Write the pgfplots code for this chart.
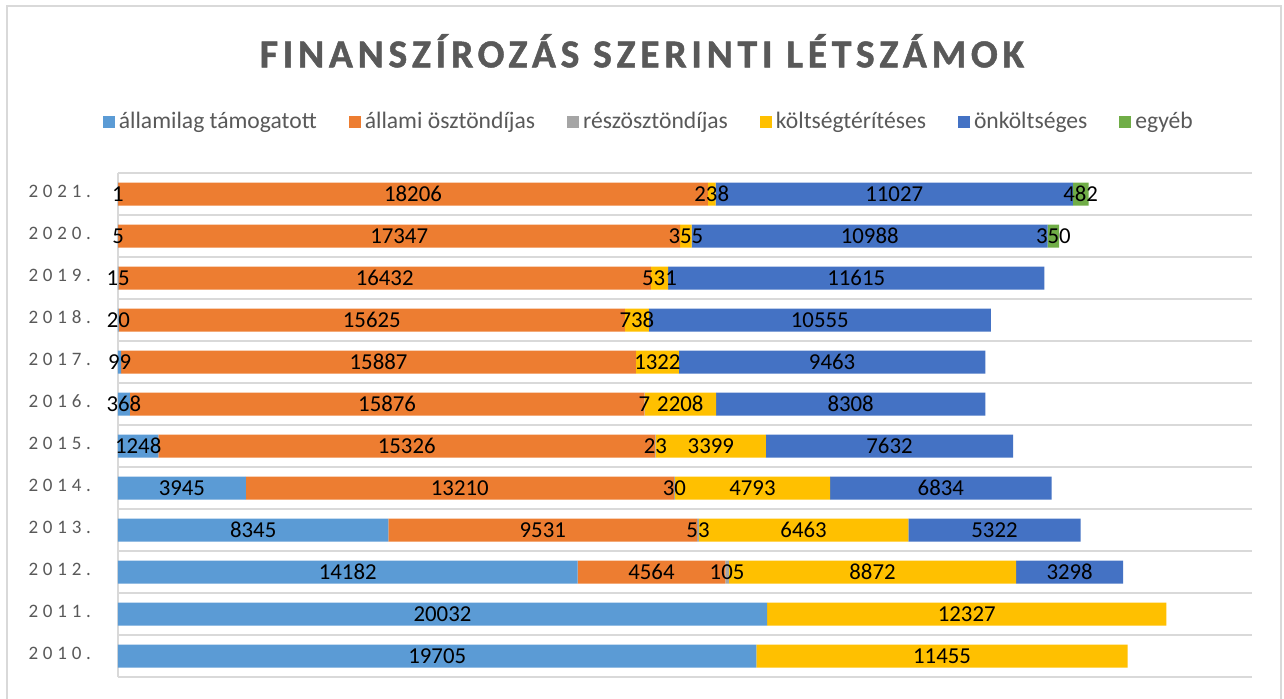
\documentclass[border=0pt]{standalone}
\usepackage{pgfplots}
\usepackage{pgfplotstable}
\pgfplotsset{compat=1.18}
\usepackage{fontspec}
\setmainfont{Carlito}
\newfontfamily\titlefamily[LetterSpace=12, FakeBold=1.2]{Carlito Bold}
\newfontfamily\yearfamily[LetterSpace=25]{Carlito}

\definecolor{ctam}{HTML}{5B9BD5}
\definecolor{cost}{HTML}{ED7D31}
\definecolor{cresz}{HTML}{A5A5A5}
\definecolor{ckolt}{HTML}{FFC000}
\definecolor{conk}{HTML}{4472C4}
\definecolor{cegy}{HTML}{70AD47}
\definecolor{txtgray}{HTML}{595959}
\definecolor{gridgray}{HTML}{D9D9D9}

% pos 0 = 2010 ... 11 = 2021
\pgfplotstableread{
pos tam ost resz kolt onk egy
0 19705 0 0 11455 0 0
1 20032 0 0 12327 0 0
2 14182 4564 105 8872 3298 0
3 8345 9531 53 6463 5322 0
4 3945 13210 30 4793 6834 0
5 1248 15326 23 3399 7632 0
6 368 15876 7 2208 8308 0
7 99 15887 0 1322 9463 0
8 20 15625 0 738 10555 0
9 15 16432 0 531 11615 0
10 5 17347 0 355 10988 350
11 1 18206 0 238 11027 482
}\data

\pgfplotsset{
  common/.style={
    at={(59pt,10.5pt)}, anchor=south west,
    scale only axis, width=567pt, height=252pt,
    xmin=0, xmax=35000, ymin=-0.5, ymax=11.5,
    /pgf/number format/assume math mode=true,
  },
  lbl/.style={
    draw=none, mark=none,
    nodes near coords={\pgfmathprintnumber[fixed,1000 sep={},assume math mode=true]{\pgfplotspointmeta}},
    every node near coord/.append style={anchor=center, text=black, font=\fontsize{11.4pt}{13pt}\selectfont},
    point meta=explicit,
  },
}

\begin{document}
\begin{tikzpicture}
\useasboundingbox (0,0) rectangle (642pt,349pt);
\fill[white] (0,0) rectangle (642pt,349pt);
\draw[gridgray, line width=0.75pt] (3.5pt,-5pt) -- (3.5pt,346pt) -- (640.5pt,346pt) -- (640.5pt,-5pt);

\begin{axis}[common,
  xbar stacked,
  bar width=11.5pt,
  axis line style={draw=none},
  tick style={draw=none},
  xtick=\empty,
  ytick={0,...,11},
  yticklabels={2010.,2011.,2012.,2013.,2014.,2015.,2016.,2017.,2018.,2019.,2020.,2021.},
  yticklabel style={font=\yearfamily\fontsize{9.5pt}{11pt}\selectfont, text=txtgray, xshift=-10pt, yshift=1.5pt},
  minor ytick={-0.5,0.5,...,11.5},
  yminorgrids=true,
  minor grid style={draw=gridgray, line width=0.75pt},
  extra x ticks={0},
  extra x tick labels={},
  extra x tick style={grid=major, major grid style={draw=gridgray, line width=0.75pt}},
  title={FINANSZÍROZÁS SZERINTI LÉTSZÁMOK},
  title style={at={(0.462,1.2097)}, anchor=base, yshift=-6pt, text=txtgray,
    font=\titlefamily\fontsize{19.8pt}{23pt}\selectfont},
  legend columns=-1,
  legend style={at={(0.469,1.101)}, anchor=center, draw=none, fill=none,
    font=\fontsize{11.8pt}{14pt}\selectfont, text=txtgray,
    /tikz/every even column/.append style={column sep=14pt}},
  legend image code/.code={\fill[#1] (0pt,-3pt) rectangle (6pt,3pt);},
]
\addplot[fill=ctam, draw=none] table[x=tam, y=pos] {\data};
\addlegendentry{államilag támogatott}
\addplot[fill=cost, draw=none] table[x=ost, y=pos] {\data};
\addlegendentry{állami ösztöndíjas}
\addplot[fill=cresz, draw=none] table[x=resz, y=pos] {\data};
\addlegendentry{részösztöndíjas}
\addplot[fill=ckolt, draw=none] table[x=kolt, y=pos] {\data};
\addlegendentry{költségtérítéses}
\addplot[fill=conk, draw=none] table[x=onk, y=pos] {\data};
\addlegendentry{önköltséges}
\addplot[fill=cegy, draw=none] table[x=egy, y=pos] {\data};
\addlegendentry{egyéb}
\end{axis}

% data labels, centred in each segment
\begin{axis}[common, hide axis]
\addplot[lbl, restrict expr to domain={\thisrow{tam}}{0.5:1e6}]
  table[x expr={\thisrow{tam}/2}, y=pos, meta=tam] {\data};
\addplot[lbl, restrict expr to domain={\thisrow{ost}}{0.5:1e6}]
  table[x expr={\thisrow{tam}+\thisrow{ost}/2}, y=pos, meta=ost] {\data};
\addplot[lbl, restrict expr to domain={\thisrow{resz}}{0.5:1e6}]
  table[x expr={\thisrow{tam}+\thisrow{ost}+\thisrow{resz}/2}, y=pos, meta=resz] {\data};
\addplot[lbl, restrict expr to domain={\thisrow{kolt}}{0.5:1e6}]
  table[x expr={\thisrow{tam}+\thisrow{ost}+\thisrow{resz}+\thisrow{kolt}/2}, y=pos, meta=kolt] {\data};
\addplot[lbl, restrict expr to domain={\thisrow{onk}}{0.5:1e6}]
  table[x expr={\thisrow{tam}+\thisrow{ost}+\thisrow{resz}+\thisrow{kolt}+\thisrow{onk}/2}, y=pos, meta=onk] {\data};
\addplot[lbl, restrict expr to domain={\thisrow{egy}}{0.5:1e6}]
  table[x expr={\thisrow{tam}+\thisrow{ost}+\thisrow{resz}+\thisrow{kolt}+\thisrow{onk}+\thisrow{egy}/2}, y=pos, meta=egy] {\data};
\end{axis}
\end{tikzpicture}
\end{document}
